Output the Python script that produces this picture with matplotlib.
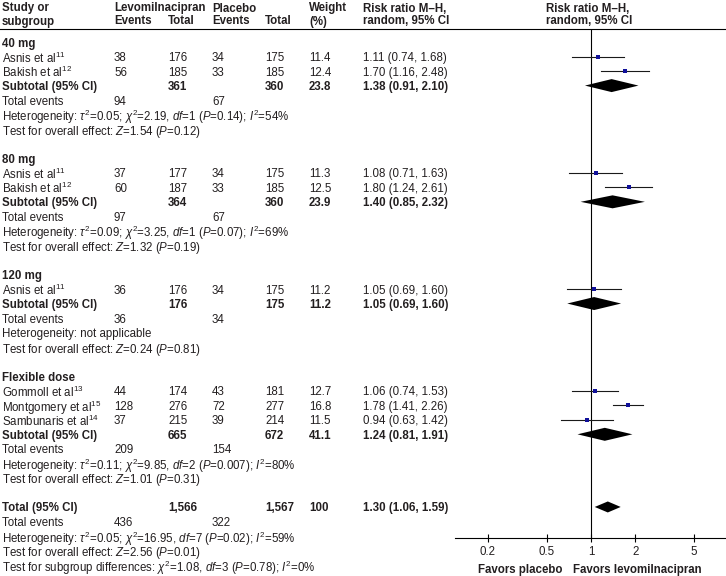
import matplotlib
matplotlib.use('Agg')
import matplotlib.pyplot as plt
from matplotlib.patches import Polygon

plt.rcParams['font.family'] = ['Liberation Sans', 'DejaVu Sans']
plt.rcParams['mathtext.fontset'] = 'custom'
plt.rcParams['mathtext.rm'] = 'Liberation Sans'
plt.rcParams['mathtext.it'] = 'Liberation Sans:italic'
plt.rcParams['mathtext.bf'] = 'Liberation Sans:bold'

# ======================== data ===============================================
groups = ['40 mg', '80 mg', '120 mg', 'Flexible dose']

study_group = [0, 0, 1, 1, 2, 3, 3, 3]
study_label = ['Asnis et al$^{11}$', 'Bakish et al$^{12}$',
               'Asnis et al$^{11}$', 'Bakish et al$^{12}$',
               'Asnis et al$^{11}$',
               'Gommoll et al$^{13}$', 'Montgomery et al$^{15}$', 'Sambunaris et al$^{14}$']
levo_events = [38, 56, 37, 60, 36, 44, 128, 37]
levo_total = [176, 185, 177, 187, 176, 174, 276, 215]
plac_events = [34, 33, 34, 33, 34, 43, 72, 39]
plac_total = [175, 185, 175, 185, 175, 181, 277, 214]
weight = [11.4, 12.4, 11.3, 12.5, 11.2, 12.7, 16.8, 11.5]
rr = [1.11, 1.70, 1.08, 1.80, 1.05, 1.06, 1.78, 0.94]
rr_lo = [0.74, 1.16, 0.71, 1.24, 0.69, 0.74, 1.41, 0.63]
rr_hi = [1.68, 2.48, 1.63, 2.61, 1.60, 1.53, 2.26, 1.42]

sub_levo_total = [361, 364, 176, 665]
sub_plac_total = [360, 360, 175, 672]
sub_weight = [23.8, 23.9, 11.2, 41.1]
sub_rr = [1.38, 1.40, 1.05, 1.24]
sub_lo = [0.91, 0.85, 0.69, 0.81]
sub_hi = [2.10, 2.32, 1.60, 1.91]
sub_levo_events = [94, 97, 36, 209]
sub_plac_events = [67, 67, 34, 154]
sub_het = [r'Heterogeneity: $\tau^2$=0.05; $\chi^2$=2.19, $df$=1 ($P$=0.14); $I^2$=54%',
           r'Heterogeneity: $\tau^2$=0.09; $\chi^2$=3.25, $df$=1 ($P$=0.07); $I^2$=69%',
           'Heterogeneity: not applicable',
           r'Heterogeneity: $\tau^2$=0.11; $\chi^2$=9.85, $df$=2 ($P$=0.007); $I^2$=80%']
sub_effect = [r'Test for overall effect: $Z$=1.54 ($P$=0.12)',
              r'Test for overall effect: $Z$=1.32 ($P$=0.19)',
              r'Test for overall effect: $Z$=0.24 ($P$=0.81)',
              r'Test for overall effect: $Z$=1.01 ($P$=0.31)']

tot_levo_total, tot_plac_total, tot_weight = '1,566', '1,567', '100'
tot_rr, tot_lo, tot_hi = 1.30, 1.06, 1.59
tot_levo_events, tot_plac_events = 436, 322
tot_lines = [r'Heterogeneity: $\tau^2$=0.05; $\chi^2$=16.95, $df$=7 ($P$=0.02); $I^2$=59%',
             r'Test for overall effect: $Z$=2.56 ($P$=0.01)',
             r'Test for subgroup differences: $\chi^2$=1.08, $df$=3 ($P$=0.78); $I^2$=0%']

ticks = [0.2, 0.5, 1, 2, 5]
tick_labels = ['0.2', '0.5', '1', '2', '5']

# ======================== layout (pixels) ====================================
W, H = 726, 576
TXT = '#231f20'
BLUE = '#10109a'
FS = 8.3
col_x = [2, 114, 168, 212, 265, 309, 363]
y0, dy = 42, 14.53

fig = plt.figure(figsize=(W / 100, H / 100), dpi=100)
ax = fig.add_axes([0, 0, 1, 1])
ax.set_xlim(0, W)
ax.set_ylim(H, 0)
ax.axis('off')

# forest axis: x=1 at 591 px, 147.4 px per decade
fx0, fx1, ftop, fbot = 455, 726, 29, 538
fa = fig.add_axes([fx0 / W, (H - fbot) / H, (fx1 - fx0) / W, (fbot - ftop) / H])
fa.set_xscale('log')
fa.set_xlim(10 ** ((fx0 - 591) / 147.4), 10 ** ((fx1 - 591) / 147.4))
fa.set_ylim(fbot, ftop)
fa.patch.set_alpha(0)
for s in ['top', 'left', 'right']:
    fa.spines[s].set_visible(False)
fa.spines['bottom'].set_linewidth(0.8)
fa.set_yticks([])
fa.set_xticks(ticks)
fa.set_xticklabels(tick_labels)
fa.minorticks_off()
fa.tick_params(axis='x', direction='inout', length=6, width=0.8, pad=3,
               labelsize=FS, labelcolor=TXT)
fa.axvline(1, color='black', lw=0.8)


def put(x, y, s, bold=False):
    ax.text(x, y, s, fontsize=FS, color=TXT, va='center_baseline', ha='left',
            fontweight='bold' if bold else 'normal')


def rr_text(r, lo, hi):
    return '%.2f (%.2f, %.2f)' % (r, lo, hi)


def diamond(y, r, lo, hi, h):
    fa.add_patch(Polygon([(lo, y), (r, y - h), (hi, y), (r, y + h)],
                         closed=True, color='black', lw=0))


# header
for x, l1, l2 in [(2, 'Study or', 'subgroup'), (114, 'Levomilnacipran', 'Events'),
                  (168, '', 'Total'), (212, 'Placebo', 'Events'), (265, '', 'Total'),
                  (309, 'Weight', '(%)'), (363, 'Risk ratio M\u2013H,', 'random, 95% CI'),
                  (546, 'Risk ratio M\u2013H,', 'random, 95% CI')]:
    put(x, 7, l1, bold=True)
    put(x, 20, l2, bold=True)
ax.plot([0, W], [29, 29], color='black', lw=0.8)

row = 0
for g, name in enumerate(groups):
    y = y0 + dy * row
    put(col_x[0], y, name, bold=True)
    row += 1
    for i in range(len(study_label)):
        if study_group[i] != g:
            continue
        y = y0 + dy * row
        vals = [study_label[i], levo_events[i], levo_total[i], plac_events[i],
                plac_total[i], weight[i], rr_text(rr[i], rr_lo[i], rr_hi[i])]
        for x, v in zip(col_x, vals):
            put(x, y, str(v))
        fa.plot([rr_lo[i], rr_hi[i]], [y, y], color='#1a1a1a', lw=0.8)
        fa.plot(rr[i], y, 's', color=BLUE, ms=0.2 * weight[i], mew=0)
        row += 1
    y = y0 + dy * row
    put(col_x[0], y, 'Subtotal (95% CI)', bold=True)
    put(col_x[2], y, str(sub_levo_total[g]), bold=True)
    put(col_x[4], y, str(sub_plac_total[g]), bold=True)
    put(col_x[5], y, str(sub_weight[g]), bold=True)
    put(col_x[6], y, rr_text(sub_rr[g], sub_lo[g], sub_hi[g]), bold=True)
    diamond(y, sub_rr[g], sub_lo[g], sub_hi[g], 6.5)
    row += 1
    y = y0 + dy * row
    put(col_x[0], y, 'Total events')
    put(col_x[1], y, str(sub_levo_events[g]))
    put(col_x[3], y, str(sub_plac_events[g]))
    row += 1
    put(col_x[0], y0 + dy * row, sub_het[g])
    row += 1
    put(col_x[0], y0 + dy * row, sub_effect[g])
    row += 2

# overall total
y = y0 + dy * row
put(col_x[0], y, 'Total (95% CI)', bold=True)
put(col_x[2], y, tot_levo_total, bold=True)
put(col_x[4], y, tot_plac_total, bold=True)
put(col_x[5], y, tot_weight, bold=True)
put(col_x[6], y, rr_text(tot_rr, tot_lo, tot_hi), bold=True)
diamond(y, tot_rr, tot_lo, tot_hi, 5.5)
row += 1
y = y0 + dy * row
put(col_x[0], y, 'Total events')
put(col_x[1], y, str(tot_levo_events))
put(col_x[3], y, str(tot_plac_events))
for line in tot_lines:
    row += 1
    put(col_x[0], y0 + dy * row, line)

ax.text(562, 568, 'Favors placebo', fontsize=FS, color=TXT, fontweight='bold',
        ha='right', va='center_baseline')
ax.text(573, 568, 'Favors levomilnacipran', fontsize=FS, color=TXT, fontweight='bold',
        ha='left', va='center_baseline')

fig.savefig('out.png', dpi=100)
